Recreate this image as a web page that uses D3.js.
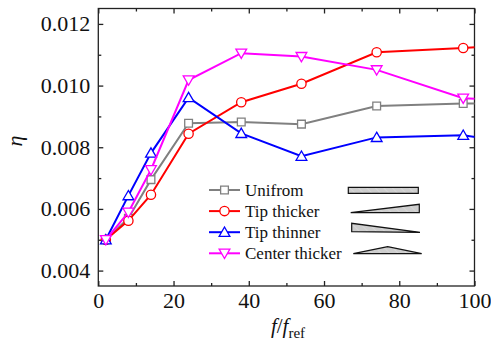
<!DOCTYPE html>
<html>
<head>
<meta charset="utf-8">
<script src="https://cdn.jsdelivr.net/npm/d3@7"></script>
<style>
    svg text, svg tspan { font-family: "Liberation Serif" !important; }
</style>
</head>
<body style="margin:0">
<svg id="chart" width="491" height="344"></svg>
<script>
// frequency ratio f/f_ref (last value lies past the axis end, only the line reaches it)
const ratios = [2, 8, 14, 24, 38, 54, 74, 97, 104];
const uniform = [0.0050, 0.0057, 0.00695, 0.00878, 0.00882, 0.00875, 0.00934, 0.00942, 0.00942];
const tipThicker = [0.0050, 0.00562, 0.00646, 0.00844, 0.00946, 0.01006, 0.01108, 0.01122, 0.01128];
const tipThinner = [0.0050, 0.00643, 0.00781, 0.00961, 0.00845, 0.00771, 0.00832, 0.00839, 0.00826];
const centerThicker = [0.0050, 0.00589, 0.00727, 0.01018, 0.01105, 0.01094, 0.01051, 0.00959, 0.00955];
const seriesNames = ['Unifrom', 'Tip thicker', 'Tip thinner', 'Center thicker'];
const xTicks = [0, 20, 40, 60, 80, 100];
const xMinor = [10, 30, 50, 70, 90];
const yTicks = [0.004, 0.006, 0.008, 0.010, 0.012];
const yMinor = [0.005, 0.007, 0.009, 0.011];

const series = [
    { name: seriesNames[0], values: uniform, color: '#808080', symbol: d3.symbolSquare, size: 60, rot: 0 },
    { name: seriesNames[1], values: tipThicker, color: '#ff0000', symbol: d3.symbolCircle, size: 68, rot: 0 },
    { name: seriesNames[2], values: tipThinner, color: '#0000ff', symbol: d3.symbolTriangle, size: 50, rot: 0 },
    { name: seriesNames[3], values: centerThicker, color: '#ff00ff', symbol: d3.symbolTriangle, size: 50, rot: 180 }
];

const svg = d3.select('#chart');
const box = { left: 98.3, right: 474.5, top: 8.5, bottom: 286 };

const x_scale = d3.scaleLinear().domain([0, 100]).range([box.left, box.right]);
const y_scale = d3.scaleLinear().domain([0.0035, 0.0125]).range([box.bottom, box.top]);

svg.append('defs').append('clipPath').attr('id', 'plot-clip')
    .append('rect')
    .attr('x', box.left).attr('y', box.top)
    .attr('width', box.right - box.left).attr('height', box.bottom - box.top);

// hatch for the legend shapes
const hatch = svg.select('defs').append('pattern')
    .attr('id', 'hatch').attr('patternUnits', 'userSpaceOnUse')
    .attr('width', 6).attr('height', 6)
    .attr('patternTransform', 'rotate(-45)');
hatch.append('rect').attr('width', 6).attr('height', 6).attr('fill', '#cdcdcd');
hatch.append('line').attr('x1', 0).attr('y1', 0).attr('x2', 0).attr('y2', 6)
    .attr('stroke', '#e2e2e2').attr('stroke-width', 1);

// axes (ticks pointing inside, also mirrored on top and right)
function addAxis(axisFn, scale, transform, values, size, labels, fmt, pad) {
    const ax = axisFn(scale).tickValues(values).tickSizeInner(size).tickSizeOuter(0).tickPadding(pad);
    ax.tickFormat(labels ? fmt : () => '');
    const g = svg.append('g').attr('transform', transform).call(ax);
    g.attr('font-family', null).attr('font-size', null);
    g.select('.domain').remove();
    g.selectAll('line').attr('stroke', '#222').attr('stroke-width', 1.3);
    g.selectAll('text')
        .style('font-family', '"Liberation Serif"')
        .style('font-size', '22px')
        .attr('fill', '#111');
}
addAxis(d3.axisBottom, x_scale, `translate(0,${box.bottom})`, xTicks, -5, true, d3.format('d'), 6.5);
addAxis(d3.axisBottom, x_scale, `translate(0,${box.bottom})`, xMinor, -3, false, null, 0);
addAxis(d3.axisTop, x_scale, `translate(0,${box.top})`, xTicks, -5, false, null, 0);
addAxis(d3.axisTop, x_scale, `translate(0,${box.top})`, xMinor, -3, false, null, 0);
addAxis(d3.axisLeft, y_scale, `translate(${box.left},0)`, yTicks, -5, true, d3.format('.3f'), 8);
addAxis(d3.axisLeft, y_scale, `translate(${box.left},0)`, yMinor, -3, false, null, 0);
addAxis(d3.axisRight, y_scale, `translate(${box.right},0)`, yTicks, -5, false, null, 0);
addAxis(d3.axisRight, y_scale, `translate(${box.right},0)`, yMinor, -3, false, null, 0);

svg.append('rect')
    .attr('x', box.left).attr('y', box.top)
    .attr('width', box.right - box.left).attr('height', box.bottom - box.top)
    .attr('fill', 'none').attr('stroke', '#222').attr('stroke-width', 1.3);

// series
const line = d3.line()
    .x((d) => x_scale(d[0]))
    .y((d) => y_scale(d[1]));

series.forEach((s) => {
    const pts = ratios.map((r, i) => [r, s.values[i]]);
    svg.append('path')
        .datum(pts)
        .attr('clip-path', 'url(#plot-clip)')
        .attr('fill', 'none')
        .attr('stroke', s.color)
        .attr('stroke-width', 2)
        .attr('d', line);
    svg.selectAll(null)
        .data(pts.filter((d) => d[0] <= 100)).enter()
        .append('path')
        .attr('d', d3.symbol().type(s.symbol).size(s.size))
        .attr('transform', (d) => `translate(${x_scale(d[0])},${y_scale(d[1]) + (s.symbol === d3.symbolTriangle ? (s.rot ? -1 : 1) : 0)}) rotate(${s.rot})`)
        .attr('fill', '#fff')
        .attr('stroke', s.color)
        .attr('stroke-width', 1.3);
});

// legend
const legend = svg.append('g').attr('transform', 'translate(209,190)');
const rowGap = 21.1;
series.forEach((s, i) => {
    const row = legend.append('g').attr('transform', `translate(0,${i * rowGap})`);
    row.append('line').attr('x1', 0).attr('x2', 31).attr('y1', 0).attr('y2', 0)
        .attr('stroke', s.color).attr('stroke-width', 2);
    row.append('path')
        .attr('d', d3.symbol().type(s.symbol).size(s.size))
        .attr('transform', `translate(15.5,${s.symbol === d3.symbolTriangle ? (s.rot ? -1 : 1) : 0}) rotate(${s.rot})`)
        .attr('fill', '#fff').attr('stroke', s.color).attr('stroke-width', 1.3);
    row.append('text')
        .attr('x', 36).attr('y', 0).attr('dy', '0.34em')
        .style('font-family', '"Liberation Serif"')
        .style('font-size', '17px')
        .attr('fill', '#111')
        .text(s.name);
});

// beam shape glyphs next to the legend
const glyphs = [
    [[348.3, 187.3], [418.3, 187.3], [418.3, 193.3], [348.3, 193.3]],
    [[350.7, 212.7], [419.3, 204.3], [419.3, 212.7]],
    [[351.7, 223.3], [351.7, 231.7], [420, 232.3]],
    [[353.3, 253.6], [387.7, 246.7], [421.7, 253.6]]
];
svg.append('g').selectAll('polygon')
    .data(glyphs).enter()
    .append('polygon')
    .attr('points', (d) => d.map((p) => p.join(',')).join(' '))
    .attr('fill', 'url(#hatch)')
    .attr('stroke', '#111')
    .attr('stroke-width', 1.2)
    .attr('stroke-linejoin', 'miter');

// axis titles
svg.append('text')
    .attr('transform', 'translate(22,141) rotate(-90)')
    .attr('text-anchor', 'middle')
    .style('font-family', '"Liberation Serif"')
    .style('font-size', '22px').style('font-style', 'italic')
    .attr('fill', '#111')
    .text('η');

const xt = svg.append('text')
    .attr('x', 288).attr('y', 333)
    .attr('text-anchor', 'middle')
    .style('font-family', '"Liberation Serif"')
    .style('font-size', '21px')
    .attr('fill', '#111');
xt.append('tspan').style('font-style', 'italic').text('f');
xt.append('tspan').text('/');
xt.append('tspan').style('font-style', 'italic').text('f');
xt.append('tspan').attr('dy', 5).style('font-size', '15px').text('ref');
</script>
</body>
</html>
